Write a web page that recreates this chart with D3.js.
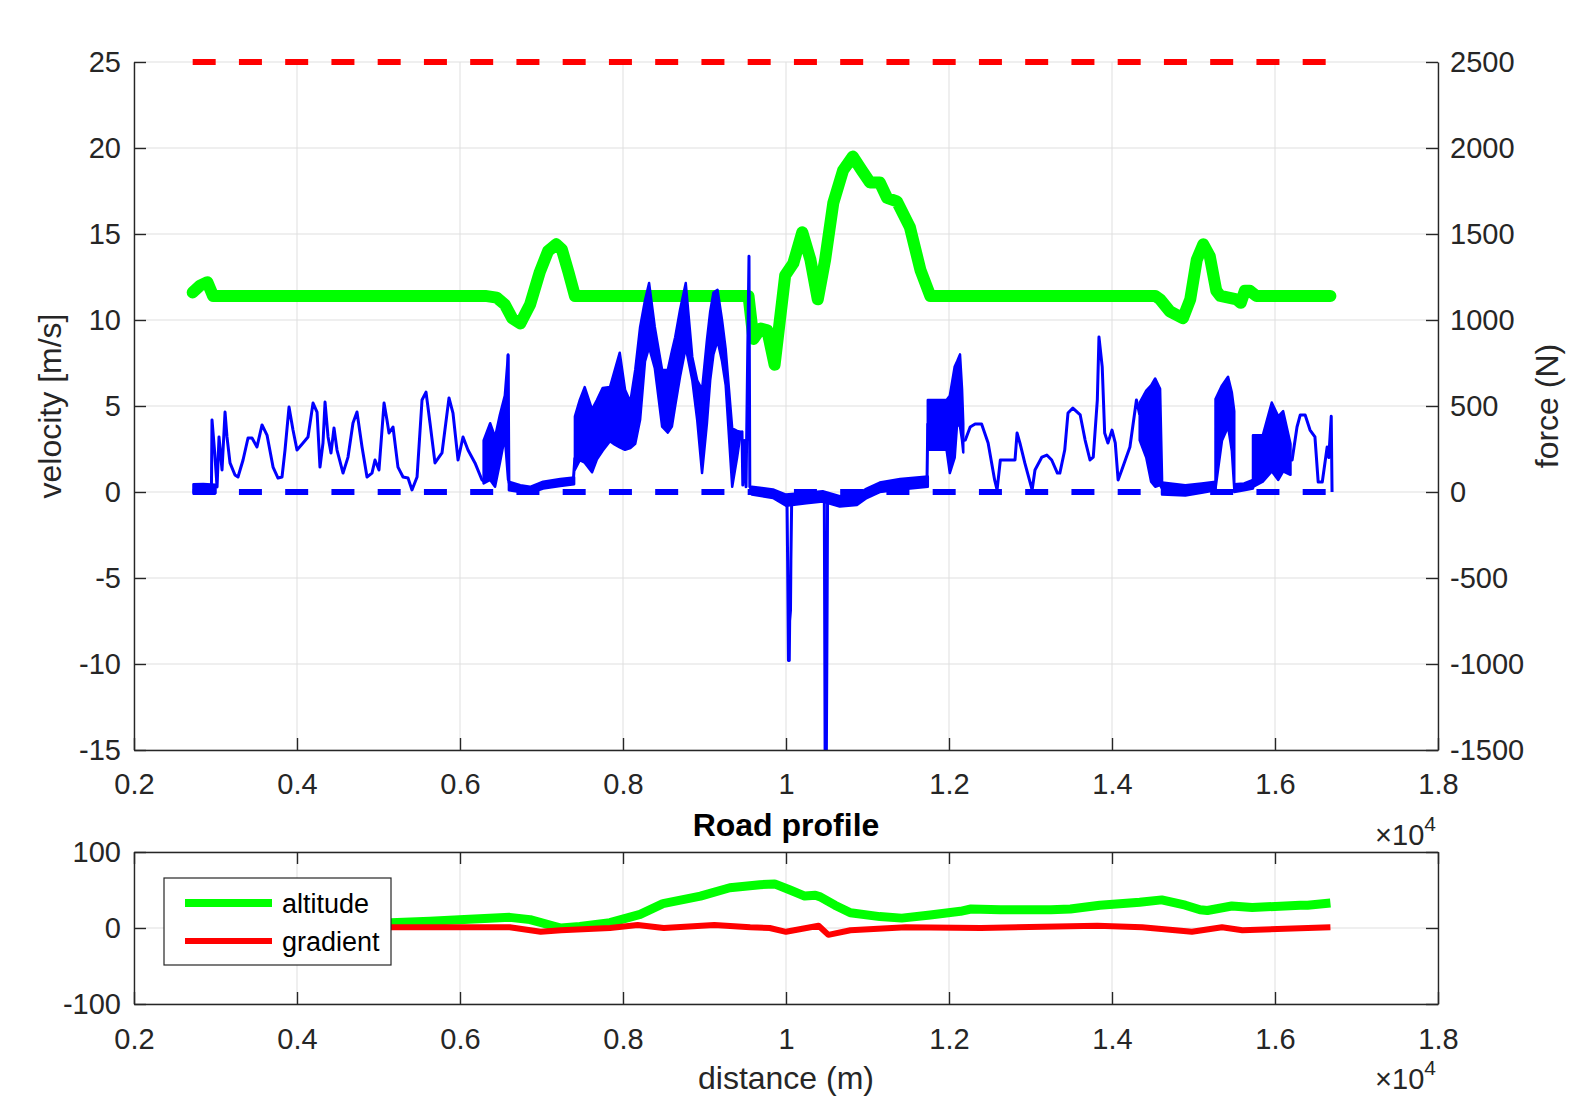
<!DOCTYPE html>
<html>
<head>
    <meta charset="UTF-8">
    <title>velocity / force / road profile</title>
    <style type="text/css">
        html, body {
            margin: 0;
            padding: 0;
            background: #ffffff;
        }

        svg {
            display: block;
            font-family: "Liberation Sans", Arial, Helvetica, sans-serif;
        }
    </style>
</head>
<body>
    <div id="chart"></div>
    <script src="https://cdn.jsdelivr.net/npm/d3@7"></script>
    <script>
        // ticks
        var distTicks = [2000, 4000, 6000, 8000, 10000, 12000, 14000, 16000, 18000];
        var velTicks = [-15, -10, -5, 0, 5, 10, 15, 20, 25];
        var forceTicks = [-1500, -1000, -500, 0, 500, 1000, 1500, 2000, 2500];
        var roadTicks = [-100, 0, 100];

        // reference lines (velocity limit, zero force) over the recorded stretch
        var dashStart = 2720, dashEnd = 16700;
        var speedLimit = 25;
        var forceZero = 0;

        // velocity [m/s] vs distance [m]
        var velocity = [
            [2720, 11.6], [2810, 12.0], [2900, 12.2], [2970, 11.4], [3060, 11.4], [6310, 11.4],
            [6450, 11.3], [6550, 10.9], [6640, 10.1], [6740, 9.8], [6860, 10.9], [6980, 12.8],
            [7080, 14.0], [7180, 14.4], [7250, 14.1], [7330, 12.8], [7410, 11.4], [9540, 11.4],
            [9600, 8.9], [9690, 9.5], [9770, 9.4], [9860, 7.4], [9990, 12.6], [10090, 13.3],
            [10200, 15.1], [10300, 13.5], [10390, 11.2], [10480, 13.5], [10580, 16.8], [10700, 18.7],
            [10820, 19.5], [10930, 18.7], [11030, 18.0], [11150, 18.0], [11240, 17.1], [11360, 16.9],
            [11520, 15.4], [11650, 12.9], [11770, 11.4], [14530, 11.4], [14590, 11.2], [14710, 10.5],
            [14870, 10.1], [14960, 11.2], [15040, 13.5], [15120, 14.4], [15200, 13.7], [15280, 11.7],
            [15330, 11.4], [15530, 11.2], [15580, 11.0], [15630, 11.7], [15690, 11.7], [15770, 11.4],
            [16680, 11.4]
        ];

        // force [N]: single trace, null = gap where a dense band takes over
        var force = [
            [2740, 15], [2800, 30], [2860, 5], [2920, 35], [2950, 10], [2957, 419], [2990, 230],
            [3019, 29], [3043, 320], [3080, 128], [3117, 465], [3141, 320], [3178, 169], [3239, 99],
            [3276, 87], [3338, 186], [3399, 314], [3448, 314], [3509, 262], [3571, 390], [3632, 331],
            [3706, 145], [3767, 81], [3816, 87], [3853, 244], [3902, 494], [3951, 360], [4000, 244],
            [4074, 285], [4135, 320], [4197, 517], [4246, 465], [4282, 145], [4319, 285], [4344, 523],
            [4381, 320], [4417, 227], [4454, 372], [4491, 244], [4565, 110], [4626, 203], [4687, 401],
            [4736, 465], [4798, 262], [4859, 87], [4920, 110], [4957, 186], [5006, 128], [5068, 517],
            [5104, 419], [5129, 343], [5178, 378], [5239, 145], [5301, 87], [5362, 81], [5411, 12],
            [5473, 87], [5534, 535], [5583, 581], [5632, 401], [5693, 169], [5779, 227], [5865, 547],
            [5914, 459], [5976, 186], [6037, 320], [6098, 244], [6184, 169], [6270, 70], [6295, 60],
            [6295, null],
            [6590, 800], [6600, 60], [6614, 35], [6740, 20], [6860, 10], [7020, 40], [7230, 55],
            [7390, 65], [7410, 200],
            [7410, null],
            [9440, 345], [9460, 350], [9470, 40], [9490, 300], [9510, 30], [9530, 800], [9546, 1370],
            [9556, 30], [9580, 10], [9700, 0], [9840, -10], [10000, -50], [10012, -40], [10020, -400],
            [10030, -980], [10040, -980], [10045, -750], [10055, -690], [10060, -400], [10070, -40],
            [10250, -35], [10450, -25], [10470, -30], [10480, -1550], [10495, -1550], [10505, -600],
            [10510, -40], [10660, -55], [10870, -45], [10990, -5], [11150, 25], [11400, 45],
            [11730, 60], [11740, 400],
            [11740, null],
            [12175, 300], [12200, 302], [12260, 378], [12320, 395], [12400, 395], [12480, 285],
            [12560, 70], [12590, 12], [12630, 186], [12810, 186], [12835, 343], [12870, 285],
            [12930, 169], [13020, 12], [13055, 128], [13140, 203], [13200, 215], [13260, 186],
            [13330, 110], [13360, 110], [13420, 244], [13460, 459], [13520, 488], [13610, 448],
            [13670, 302], [13730, 186], [13770, 203], [13820, 535], [13840, 901], [13880, 727],
            [13910, 343], [13950, 285], [14000, 360], [14040, 285], [14075, 70], [14120, 128],
            [14220, 262], [14300, 535], [14340, 450],
            [14340, null],
            [14614, 30], [14900, 10], [15100, 20], [15264, 35],
            [15264, null],
            [15500, 30], [15620, 30], [15730, 40],
            [15730, null],
            [16190, 190], [16210, 186], [16270, 378], [16310, 448], [16370, 448], [16430, 360],
            [16490, 320], [16530, 58], [16580, 58], [16640, 262], [16660, 200], [16690, 440],
            [16700, 0]
        ];

        // dense oscillation stretches of the force signal: [distance, low, high]
        var noise1 = [[2730, -6, 45], [2850, -6, 47], [3000, -6, 42]];
        var burst1 = [[6290, 50, 300], [6370, 70, 400], [6430, 30, 320], [6490, 170, 450], [6550, 320, 560], [6590, 70, 800]];
        var noise2 = [[6600, 10, 60], [6740, 0, 40], [6860, -6, 30], [7020, 20, 60], [7230, 35, 75], [7400, 45, 85]];
        var burst2 = [
            [7410, 130, 440], [7470, 185, 535], [7530, 170, 610], [7620, 115, 480], [7680, 190, 535],
            [7750, 240, 605], [7840, 295, 610], [7900, 275, 710], [7960, 260, 810], [8025, 245, 595],
            [8090, 255, 525], [8150, 280, 710], [8210, 420, 960], [8270, 760, 1115], [8320, 840, 1215],
            [8390, 720, 960], [8480, 380, 710], [8550, 345, 710], [8600, 380, 820], [8640, 500, 900],
            [8700, 670, 1060], [8770, 840, 1215], [8850, 650, 785], [8910, 420, 650], [8970, 110, 595],
            [9030, 400, 885], [9070, 650, 1050], [9110, 800, 1160], [9160, 880, 1175], [9215, 760, 1000],
            [9260, 620, 830], [9340, 30, 370], [9400, 200, 355], [9440, 330, 350]
        ];
        var noise3 = [
            [9580, -15, 30], [9840, -35, 15], [10000, -80, -15], [10250, -65, -5], [10450, -55, 5],
            [10660, -85, -25], [10870, -75, -15], [10990, -35, 20], [11150, 0, 55], [11400, 15, 75],
            [11740, 30, 90]
        ];
        var burst3 = [[11740, 245, 535], [11970, 245, 535], [12010, 110, 560], [12070, 200, 730], [12100, 400, 760], [12135, 380, 800], [12160, 300, 600], [12175, 230, 400]];
        var burst4 = [[14340, 300, 520], [14420, 200, 590], [14480, 60, 620], [14530, 30, 660], [14590, 40, 600], [14614, 20, 80]];
        var noise4 = [[14614, -15, 55], [14900, -20, 40], [15100, -5, 50], [15270, 10, 60]];
        var burst5 = [[15270, 20, 540], [15350, 300, 620], [15424, 380, 670], [15470, 240, 580], [15500, 20, 470]];
        var noise5 = [[15500, 0, 45], [15620, 10, 50], [15730, 20, 70]];
        var burst6 = [[15730, 30, 330], [15850, 60, 330], [15960, 120, 520], [16040, 70, 440], [16100, 120, 470], [16190, 100, 280]];
        var forceBands = [noise1, burst1, noise2, burst2, noise3, burst3, burst4, noise4, burst5, noise5, burst6];

        // road profile
        var altitude = [
            [2720, 2], [3500, 3], [4300, 4], [5150, 7], [5630, 9], [5990, 11], [6610, 14], [6860, 11],
            [7170, 2], [7240, 0], [7470, 2], [7840, 7], [8210, 18], [8490, 32], [8950, 42], [9310, 53],
            [9680, 57], [9860, 58], [10050, 50], [10230, 42], [10360, 43], [10420, 41], [10600, 30],
            [10790, 20], [11150, 15], [11420, 13], [11770, 17], [12140, 22], [12270, 25], [12630, 24],
            [13120, 24], [13250, 24], [13490, 25], [13850, 30], [14340, 34], [14610, 37], [14900, 30],
            [15080, 24], [15170, 23], [15470, 29], [15720, 27], [16310, 30], [16400, 30], [16680, 33]
        ];
        var gradient = [
            [2720, 0], [5150, 1], [5990, 1], [6610, 1], [6990, -5], [7240, -3], [7840, 0], [8180, 4],
            [8500, 0], [9120, 4], [9560, 1], [9800, 0], [10000, -5], [10300, 1], [10400, 3], [10520, -9],
            [10790, -3], [11470, 1], [12390, 0], [13820, 3], [14370, 1], [14980, -5], [15350, 1],
            [15600, -3], [16680, 1]
        ];

        var W = 1569, H = 1098;
        var ink = "#262626", gridColor = "#dfdfdf";

        var svg = d3.select("#chart").append("svg")
            .attr("width", W)
            .attr("height", H);
        svg.append("rect").attr("width", W).attr("height", H).attr("fill", "#fff");

        var x = d3.scaleLinear().domain([2000, 18000]).range([134, 1438]);
        var yVel = d3.scaleLinear().domain([-15, 25]).range([750, 62]);
        var yForce = d3.scaleLinear().domain([-1500, 2500]).range([750, 62]);
        var yRoad = d3.scaleLinear().domain([-100, 100]).range([1004, 852]);

        var defs = svg.append("defs");
        defs.append("clipPath").attr("id", "clipTop").append("rect")
            .attr("x", 134).attr("y", 56).attr("width", 1304).attr("height", 694);
        defs.append("clipPath").attr("id", "clipBottom").append("rect")
            .attr("x", 134).attr("y", 852).attr("width", 1304).attr("height", 152);

        function styleAxis(g, size) {
            g.select(".domain").attr("stroke", ink).attr("stroke-width", 1.4);
            g.selectAll(".tick line").attr("stroke", ink).attr("stroke-width", 1.4);
            g.selectAll(".tick text")
                .attr("fill", ink)
                .style("font-size", size + "px");
        }

        function fmtDist(d) { return String(d / 10000); }
        function fmtPlain(d) { return String(d); }

        function exponent(px, py) {
            var t = svg.append("text")
                .attr("x", px).attr("y", py)
                .attr("text-anchor", "end")
                .attr("fill", ink)
                .style("font-size", "29px");
            t.append("tspan").text("\u00d710");
            t.append("tspan").attr("dy", -14).style("font-size", "21px").text("4");
        }

        // ---------- top panel ----------
        var upper = svg.append("g");

        distTicks.forEach(function (t) {
            upper.append("line")
                .attr("x1", x(t)).attr("x2", x(t)).attr("y1", 62).attr("y2", 750)
                .attr("stroke", gridColor).attr("stroke-width", 1);
        });
        velTicks.forEach(function (t) {
            upper.append("line")
                .attr("x1", 134).attr("x2", 1438).attr("y1", yVel(t)).attr("y2", yVel(t))
                .attr("stroke", gridColor).attr("stroke-width", 1);
        });

        var plot = upper.append("g").attr("clip-path", "url(#clipTop)");

        plot.append("path")
            .datum(velocity)
            .attr("fill", "none")
            .attr("stroke", "#00ff00")
            .attr("stroke-width", 12)
            .attr("stroke-linejoin", "round")
            .attr("stroke-linecap", "round")
            .attr("d", d3.line().x(function (d) { return x(d[0]); }).y(function (d) { return yVel(d[1]); }));

        plot.append("line")
            .attr("x1", x(dashStart)).attr("x2", x(dashEnd))
            .attr("y1", yVel(speedLimit)).attr("y2", yVel(speedLimit))
            .attr("stroke", "#ff0000").attr("stroke-width", 6)
            .attr("stroke-dasharray", "23,23.25");

        plot.append("line")
            .attr("x1", x(dashStart)).attr("x2", x(dashEnd))
            .attr("y1", yForce(forceZero)).attr("y2", yForce(forceZero))
            .attr("stroke", "#0000ff").attr("stroke-width", 6)
            .attr("stroke-dasharray", "23,23.25");

        var band = d3.area()
            .x(function (d) { return x(d[0]); })
            .y0(function (d) { return yForce(d[1]); })
            .y1(function (d) { return yForce(d[2]); });

        plot.selectAll("path.band")
            .data(forceBands)
            .enter()
            .append("path")
            .attr("class", "band")
            .attr("fill", "#0000ff")
            .attr("stroke", "#0000ff")
            .attr("stroke-width", 2.5)
            .attr("stroke-linejoin", "round")
            .attr("d", band);

        plot.append("path")
            .datum(force)
            .attr("fill", "none")
            .attr("stroke", "#0000ff")
            .attr("stroke-width", 3)
            .attr("stroke-linejoin", "round")
            .attr("d", d3.line()
                .defined(function (d) { return d[1] !== null; })
                .x(function (d) { return x(d[0]); })
                .y(function (d) { return yForce(d[1]); }));

        var gx = upper.append("g").attr("transform", "translate(0,750)")
            .call(d3.axisBottom(x).tickValues(distTicks).tickFormat(fmtDist)
                .tickSizeInner(-12).tickSizeOuter(0).tickPadding(23));
        styleAxis(gx, 29);

        var gyl = upper.append("g").attr("transform", "translate(134,0)")
            .call(d3.axisLeft(yVel).tickValues(velTicks).tickFormat(fmtPlain)
                .tickSizeInner(-12).tickSizeOuter(0).tickPadding(13));
        styleAxis(gyl, 29);

        var gyr = upper.append("g").attr("transform", "translate(1438,0)")
            .call(d3.axisRight(yForce).tickValues(forceTicks).tickFormat(fmtPlain)
                .tickSizeInner(-12).tickSizeOuter(0).tickPadding(12));
        styleAxis(gyr, 29);

        upper.append("text")
            .attr("transform", "translate(61,406) rotate(-90)")
            .attr("text-anchor", "middle")
            .attr("fill", ink)
            .style("font-size", "32px")
            .text("velocity [m/s]");

        upper.append("text")
            .attr("transform", "translate(1558,406) rotate(-90)")
            .attr("text-anchor", "middle")
            .attr("fill", ink)
            .style("font-size", "32px")
            .text("force (N)");

        exponent(1436, 845);

        // ---------- bottom panel ----------
        var lower = svg.append("g");

        distTicks.forEach(function (t) {
            lower.append("line")
                .attr("x1", x(t)).attr("x2", x(t)).attr("y1", 852).attr("y2", 1004)
                .attr("stroke", gridColor).attr("stroke-width", 1);
        });
        roadTicks.forEach(function (t) {
            lower.append("line")
                .attr("x1", 134).attr("x2", 1438).attr("y1", yRoad(t)).attr("y2", yRoad(t))
                .attr("stroke", gridColor).attr("stroke-width", 1);
        });

        var plot2 = lower.append("g").attr("clip-path", "url(#clipBottom)");
        var roadLine = d3.line()
            .x(function (d) { return x(d[0]); })
            .y(function (d) { return yRoad(d[1]); });

        plot2.append("path")
            .datum(altitude)
            .attr("fill", "none")
            .attr("stroke", "#00ff00")
            .attr("stroke-width", 9)
            .attr("stroke-linejoin", "round")
            .attr("d", roadLine);

        plot2.append("path")
            .datum(gradient)
            .attr("fill", "none")
            .attr("stroke", "#ff0000")
            .attr("stroke-width", 6)
            .attr("stroke-linejoin", "round")
            .attr("d", roadLine);

        var bx = lower.append("g").attr("transform", "translate(0,1004)")
            .call(d3.axisBottom(x).tickValues(distTicks).tickFormat(fmtDist)
                .tickSizeInner(-12).tickSizeOuter(0).tickPadding(24));
        styleAxis(bx, 29);

        var bxt = lower.append("g").attr("transform", "translate(0,852)")
            .call(d3.axisTop(x).tickValues(distTicks).tickFormat("")
                .tickSizeInner(-12).tickSizeOuter(0));
        styleAxis(bxt, 29);

        var byl = lower.append("g").attr("transform", "translate(134,0)")
            .call(d3.axisLeft(yRoad).tickValues(roadTicks).tickFormat(fmtPlain)
                .tickSizeInner(-12).tickSizeOuter(0).tickPadding(13));
        styleAxis(byl, 29);

        var byr = lower.append("g").attr("transform", "translate(1438,0)")
            .call(d3.axisRight(yRoad).tickValues(roadTicks).tickFormat("")
                .tickSizeInner(-12).tickSizeOuter(0));
        styleAxis(byr, 29);

        lower.append("text")
            .attr("x", 786).attr("y", 836)
            .attr("text-anchor", "middle")
            .attr("fill", "#000")
            .style("font-size", "32px")
            .style("font-weight", "bold")
            .text("Road profile");

        lower.append("text")
            .attr("x", 786).attr("y", 1089)
            .attr("text-anchor", "middle")
            .attr("fill", ink)
            .style("font-size", "32px")
            .text("distance (m)");

        exponent(1436, 1089);

        // legend
        var legendItems = [
            { label: "altitude", color: "#00ff00", width: 8 },
            { label: "gradient", color: "#ff0000", width: 6 }
        ];
        var lg = lower.append("g");
        lg.append("rect")
            .attr("x", 164).attr("y", 878).attr("width", 227).attr("height", 87)
            .attr("fill", "#fff").attr("stroke", ink).attr("stroke-width", 1.2);
        legendItems.forEach(function (item, i) {
            var ly = 903 + i * 38;
            lg.append("line")
                .attr("x1", 185).attr("x2", 272).attr("y1", ly).attr("y2", ly)
                .attr("stroke", item.color).attr("stroke-width", item.width);
            lg.append("text")
                .attr("x", 282).attr("y", ly + 10)
                .attr("fill", "#000")
                .style("font-size", "27px")
                .text(item.label);
        });
    </script>
</body>
</html>
